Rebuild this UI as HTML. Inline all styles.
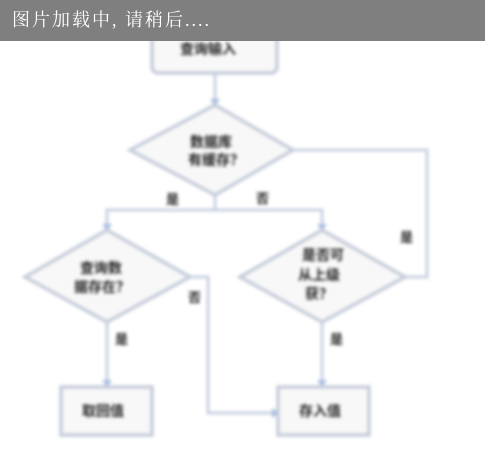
<!DOCTYPE html>
<html><head><meta charset="utf-8"><style>
html,body{margin:0;padding:0;background:#fff;width:485px;height:449px;overflow:hidden;position:relative}
svg{position:absolute;left:0;top:0;filter:blur(1.6px)}
#hdr{position:absolute;left:0;top:0;width:485px;height:41px;background:#7f7f7f;color:#fff;font:18px "Liberation Serif","Noto Serif CJK SC",serif;line-height:41px;padding-left:12px;box-sizing:border-box;letter-spacing:2px}
</style></head><body>
<svg width="485" height="449" viewBox="0 0 485 449" font-family="Liberation Sans, Noto Sans CJK SC, sans-serif" font-size="14" font-weight="bold" fill="#222">
<g stroke="#c9d2e2" stroke-width="3" fill="none">
<line x1="215" y1="73" x2="215" y2="105"/>
<polyline points="293,150 427,150 427,277 405,277"/>
<polyline points="107,230 107,210 322,210 322,230"/>
<line x1="215" y1="195" x2="215" y2="210"/>
<polyline points="190,277 208,277 208,413 278,413"/>
<line x1="107" y1="322" x2="107" y2="386"/>
<line x1="322" y1="322" x2="322" y2="386"/>
</g>
<g fill="#a9bde0">
<polygon points="210,99 220,99 215,106"/><polygon points="102,224 112,224 107,231"/><polygon points="317,224 327,224 322,231"/>
<polygon points="102,380 112,380 107,387"/><polygon points="317,380 327,380 322,387"/><polygon points="272,408 272,418 279,413"/>
</g>
<g stroke="#c5ccda" stroke-width="3.5" fill="#f8f8f8">
<rect x="152" y="15" width="125" height="58" rx="6"/>
<polygon points="130,150 215,105 293,150 215,195"/>
<polygon points="25,277 107,230 190,277 107,322"/>
<polygon points="240,277 322,230 405,277 322,322"/>
<rect x="61" y="387" width="91" height="48"/>
<rect x="278" y="387" width="91" height="48"/>
</g>
<text x="180" y="54">查询输入</text>
<text x="190" y="147">数据库</text><text x="188" y="165">有缓存？</text>
<text x="80" y="273">查询数</text><text x="74" y="292">据存在？</text>
<text x="302" y="260">是否可</text><text x="298" y="280">从上级</text><text x="305" y="299">获？</text>
<text x="82" y="416">取回值</text><text x="299" y="416">存入值</text>
<g font-size="13">
<text x="166" y="204">是</text><text x="256" y="203">否</text><text x="400" y="242">是</text>
<text x="188" y="302">否</text><text x="115" y="344">是</text><text x="330" y="344">是</text>
</g>
</svg>
<div id="hdr">图片加载中, 请稍后....</div>
</body></html>
